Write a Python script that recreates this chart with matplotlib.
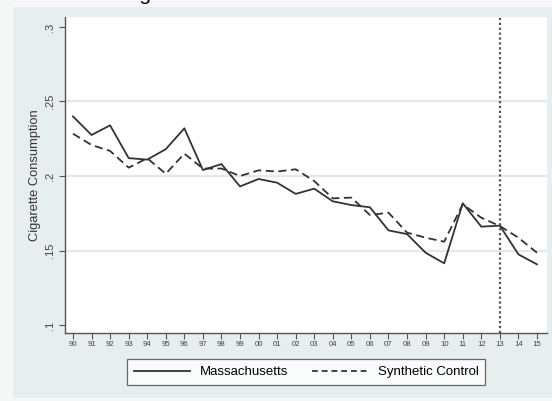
import matplotlib
matplotlib.use("Agg")
import matplotlib.pyplot as plt
from matplotlib.patches import Rectangle
from matplotlib.lines import Line2D

plt.rcParams["font.family"] = ["Liberation Sans", "DejaVu Sans"]

# Years 1990-2015, labelled with two digits
year_labels = ["90", "91", "92", "93", "94", "95", "96", "97", "98", "99",
               "00", "01", "02", "03", "04", "05", "06", "07", "08", "09",
               "10", "11", "12", "13", "14", "15"]

massachusetts = [0.240, 0.2275, 0.234, 0.212, 0.211, 0.218, 0.232, 0.204,
                 0.208, 0.193, 0.198, 0.1955, 0.188, 0.1915, 0.183, 0.1805,
                 0.179, 0.1635, 0.161, 0.1485, 0.1414, 0.1817, 0.166, 0.1667,
                 0.1474, 0.1407]

synthetic = [0.2284, 0.2208, 0.2168, 0.2056, 0.2119, 0.2015, 0.215, 0.205,
             0.205, 0.200, 0.2038, 0.203, 0.2045, 0.1966, 0.185, 0.1855,
             0.1738, 0.1754, 0.162, 0.1586, 0.1559, 0.181, 0.172, 0.1664,
             0.1586, 0.1485]

y_ticks = [0.1, 0.15, 0.2, 0.25, 0.3]
y_tick_labels = [".1", ".15", ".2", ".25", ".3"]
treatment_label = "13"

W, H = 552, 401
fig = plt.figure(figsize=(W / 100, H / 100), dpi=100)
fig.patch.set_facecolor("#f6f8f8")

# Graph region background
fig.add_artist(Rectangle((13 / W, 1 - 398 / H), (W - 13) / W, (398 - 7) / H,
                         transform=fig.transFigure, facecolor="#e7eef0",
                         edgecolor="none", zorder=0))

fig.text(122 / W, 1.0, "Figure 1: Massachusetts", fontsize=15,
         ha="left", va="baseline", color="black")

ax = fig.add_axes([65 / W, 1 - 333 / H, (547 - 65) / W, (333 - 17) / H])
ax.set_facecolor("white")

x = list(range(len(year_labels)))
ax.plot(x, massachusetts, color="#333333", lw=1.3, ls="-", label="Massachusetts")
ax.plot(x, synthetic, color="#333333", lw=1.3, ls=(0, (4.5, 2.5)),
        label="Synthetic Control")

tx = year_labels.index(treatment_label)
ax.axvline(tx, color="#555555", lw=1.6, ls=(0, (1, 1.2)))

ax.set_xlim(-0.43, len(year_labels) - 1 + 0.54)
ax.set_ylim(0.1 - 8 / 1490, 0.3 + 10 / 1490)

for v in y_ticks[1:-1]:
    ax.axhline(v, color="#e3e8ea", lw=1.6, zorder=0)

ax.set_xticks(x)
ax.set_xticklabels(year_labels, fontsize=5.6, color="#444444")
ax.set_yticks(y_ticks)
ax.set_yticklabels(y_tick_labels, fontsize=8, color="#444444",
                   rotation=90, va="center")
ax.tick_params(axis="both", direction="out", length=4, width=0.8,
               color="#555555", pad=3)
ax.tick_params(axis="x", pad=2)

for side in ("top", "right"):
    ax.spines[side].set_visible(False)
for side in ("left", "bottom"):
    ax.spines[side].set_color("#555555")
    ax.spines[side].set_linewidth(1.0)

ax.set_ylabel("Cigarette Consumption", fontsize=9.3, color="#333333",
              labelpad=3)

handles = [Line2D([], [], color="#333333", lw=1.3, ls="-"),
           Line2D([], [], color="#333333", lw=1.3, ls=(0, (3.2, 2.2)))]
leg = fig.legend(handles, ["Massachusetts", "Synthetic Control"], ncol=2,
                 loc="center", bbox_to_anchor=(306 / W, 1 - 372 / H),
                 fontsize=9.5, frameon=True, fancybox=False, handlelength=4.3,
                 columnspacing=1.8, handletextpad=0.7, borderpad=0.5)
leg.get_frame().set_edgecolor("#444444")
leg.get_frame().set_linewidth(0.9)
leg.get_frame().set_facecolor("white")

fig.savefig("out.png", dpi=100, facecolor=fig.get_facecolor())
